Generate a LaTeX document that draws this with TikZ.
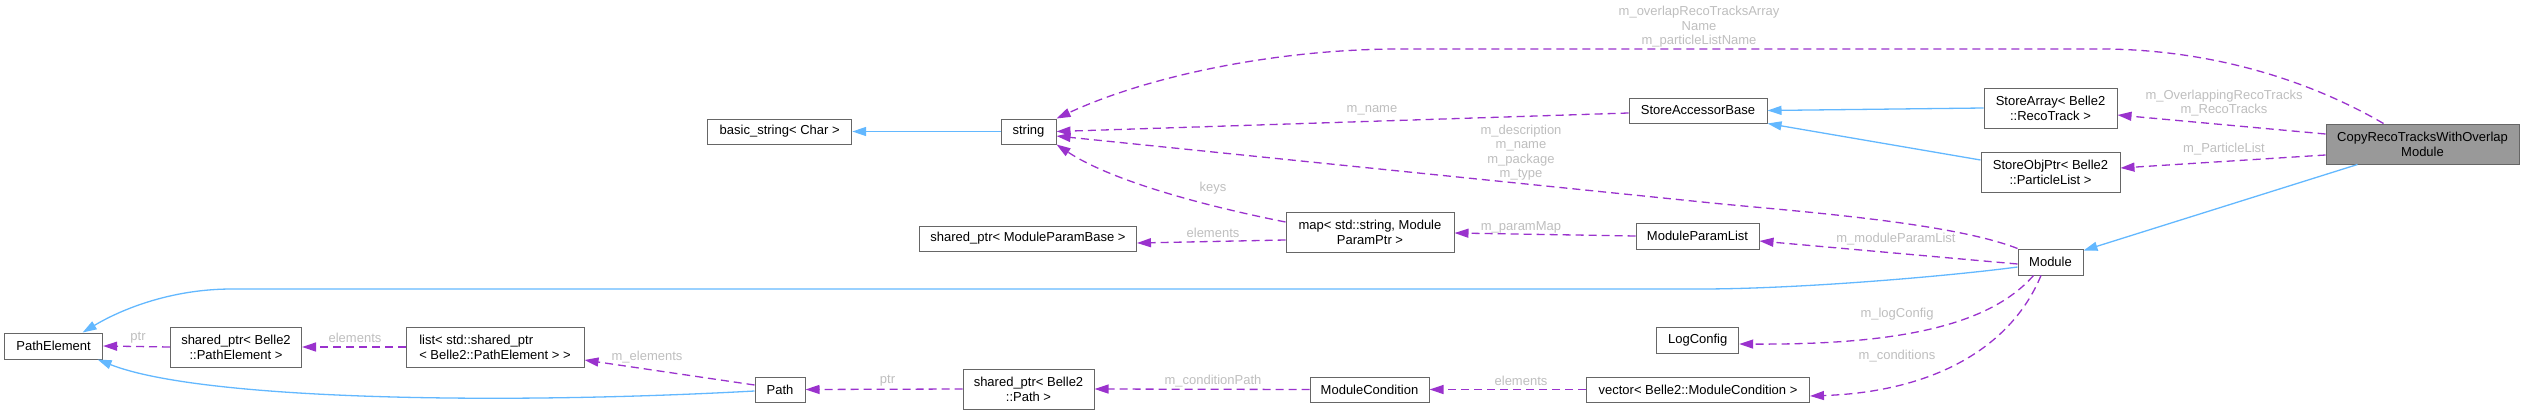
\documentclass[tikz,border=0pt]{standalone}
\usepackage{fontspec}
\setmainfont{Liberation Sans}
\usetikzlibrary{arrows.meta}
\definecolor{edgepurple}{HTML}{9A32CD}
\definecolor{inhblue}{HTML}{63B8FF}
\definecolor{lblgray}{HTML}{BEBEBE}
\definecolor{boxgray}{HTML}{666666}
\definecolor{hlfill}{HTML}{999999}
\begin{document}
\begin{tikzpicture}[x=1pt,y=-1pt,
  box/.style={draw=boxgray, line width=1pt, fill=white, inner sep=0pt, align=center, font=\fontsize{13}{15}\selectfont, text=black},
  dep/.style={draw=edgepurple, line width=1.3pt, dash pattern=on 8pt off 5pt, -{Triangle[length=14pt,width=9pt]}},
  inh/.style={draw=inhblue, line width=1.3pt, -{Triangle[length=14pt,width=9pt]}},
  lbl/.style={text=lblgray, font=\fontsize{13}{14.5}\selectfont, align=center, inner sep=0pt}
]
\useasboundingbox (0,0) rectangle (2524,415);

% nodes
\node[box, minimum width=98pt, minimum height=26pt] (pe) at (53.6,346) {PathElement};
\node[box, minimum width=131pt, minimum height=40pt] (sppe) at (236,347) {shared\_ptr< Belle2\\::PathElement >};
\node[box, align=left, minimum width=178pt, minimum height=40pt] (list) at (495,347) {list< std::shared\_ptr\\< Belle2::PathElement > >};
\node[box, minimum width=144pt, minimum height=25pt] (bstr) at (779.7,131.5) {basic\_string< Char >};
\node[box, minimum width=55pt, minimum height=25pt] (str) at (1028.5,131.5) {string};
\node[box, minimum width=217pt, minimum height=25pt] (spmpb) at (1028,238.5) {shared\_ptr< ModuleParamBase >};
\node[box, minimum width=168pt, minimum height=40pt] (map) at (1370,232) {map< std::string, Module\\ParamPtr >};
\node[box, minimum width=50pt, minimum height=25pt] (path) at (780,389.5) {Path};
\node[box, minimum width=131pt, minimum height=40pt] (sppath) at (1028.5,389) {shared\_ptr< Belle2\\::Path >};
\node[box, minimum width=119pt, minimum height=25pt] (mc) at (1369.5,389.5) {ModuleCondition};
\node[box, minimum width=138pt, minimum height=25pt] (sab) at (1698,110.5) {StoreAccessorBase};
\node[box, minimum width=133pt, minimum height=40pt] (sa) at (2050.5,108) {StoreArray< Belle2\\::RecoTrack >};
\node[box, minimum width=139pt, minimum height=40pt] (sop) at (2050.5,172) {StoreObjPtr< Belle2\\::ParticleList >};
\node[box, minimum width=123pt, minimum height=26pt] (mpl) at (1697.5,236) {ModuleParamList};
\node[box, minimum width=65pt, minimum height=26pt] (module) at (2050.5,262) {Module};
\node[box, minimum width=82pt, minimum height=26pt] (log) at (1697.7,340) {LogConfig};
\node[box, minimum width=223pt, minimum height=25pt] (vec) at (1698,389.5) {vector< Belle2::ModuleCondition >};
\node[box, fill=hlfill, minimum width=193pt, minimum height=40pt] (copy) at (2422.5,144) {CopyRecoTracksWithOverlap\\Module};

% edges
\draw[dep] ([xshift=-39pt]copy.north) .. controls (2300,75) and (2200,49) .. (2100,49) -- (1400,49) .. controls (1280,49) and (1150,75) .. (str.north east);
\draw[dep] ([yshift=10pt]copy.west) -- ([yshift=-7pt]sa.east);
\draw[dep] ([yshift=-11pt]copy.west) -- ([yshift=4pt]sop.east);
\draw[inh] ([xshift=-65pt]copy.south) -- ([yshift=-2pt]module.north east);
\draw[inh] (sa.west) -- (sab.east);
\draw[inh] ([yshift=12pt]sop.west) -- (sab.south east);
\draw[dep] ([yshift=-2.5pt]sab.west) -- (str.east);
\draw[dep] (module.north west) .. controls (1950,222) and (1792,211) .. (1712,203) -- ([yshift=-4.5pt]str.east);
\draw[dep] ([yshift=-2pt]module.west) -- ([yshift=-5pt]mpl.east);
\draw[dep] (mpl.west) -- ([yshift=-1pt]map.east);
\draw[dep] ([yshift=10pt]map.west) .. controls (1200,205) and (1110,180) .. (str.south east);
\draw[dep] ([yshift=-8pt]map.west) -- ([yshift=-4.5pt]spmpb.east);
\draw[inh] ([yshift=-5pt]module.west) .. controls (1950,276) and (1800,289) .. (1700,289) -- (232,289) .. controls (170,289) and (120,310) .. ([xshift=29pt]pe.north);
\draw[dep] ([xshift=-17pt]module.south) .. controls (1990,325) and (1900,345) .. ([yshift=-4pt]log.east);
\draw[dep] ([xshift=-9.5pt]module.south) .. controls (2010,350) and (1930,392) .. ([yshift=-6.5pt]vec.east);
\draw[dep] (vec.west) -- (mc.east);
\draw[dep] (mc.west) -- (sppath.east);
\draw[dep] (sppath.west) -- (path.east);
\draw[dep] ([yshift=4.5pt]path.west) -- ([yshift=-13pt]list.east);
\draw[inh] ([yshift=-1.5pt]path.west) .. controls (500,405) and (200,400) .. ([xshift=44pt]pe.south);
\draw[dep] (list.west) -- (sppe.east);
\draw[dep] (sppe.west) -- (pe.east);
\draw[inh] (str.west) -- (bstr.east);

% labels
\node[lbl] (l1) at (1699,27) {m\_overlapRecoTracksArray\\Name\\m\_particleListName};
\node[lbl] (l2) at (2224,103) {m\_OverlappingRecoTracks\\m\_RecoTracks};
\node[lbl] (l3) at (2224,149) {m\_ParticleList};
\node[lbl] (l4) at (1372,110) {m\_name};
\node[lbl] (l5) at (1521,152.5) {m\_description\\m\_name\\m\_package\\m\_type};
\node[lbl] (l6) at (1213,188) {keys};
\node[lbl] (l7) at (1213,233) {elements};
\node[lbl] (l8) at (1521,227) {m\_paramMap};
\node[lbl] (l9) at (1896,239) {m\_moduleParamList};
\node[lbl] (l10) at (1897,314) {m\_logConfig};
\node[lbl] (l11) at (1897,356) {m\_conditions};
\node[lbl] (l12) at (1521,381) {elements};
\node[lbl] (l13) at (1213,381) {m\_conditionPath};
\node[lbl] (l14) at (887.5,381) {ptr};
\node[lbl] (l15) at (647,357) {m\_elements};
\node[lbl] (l16) at (355,338) {elements};
\node[lbl] (l17) at (138,338) {ptr};
\end{tikzpicture}
\end{document}
